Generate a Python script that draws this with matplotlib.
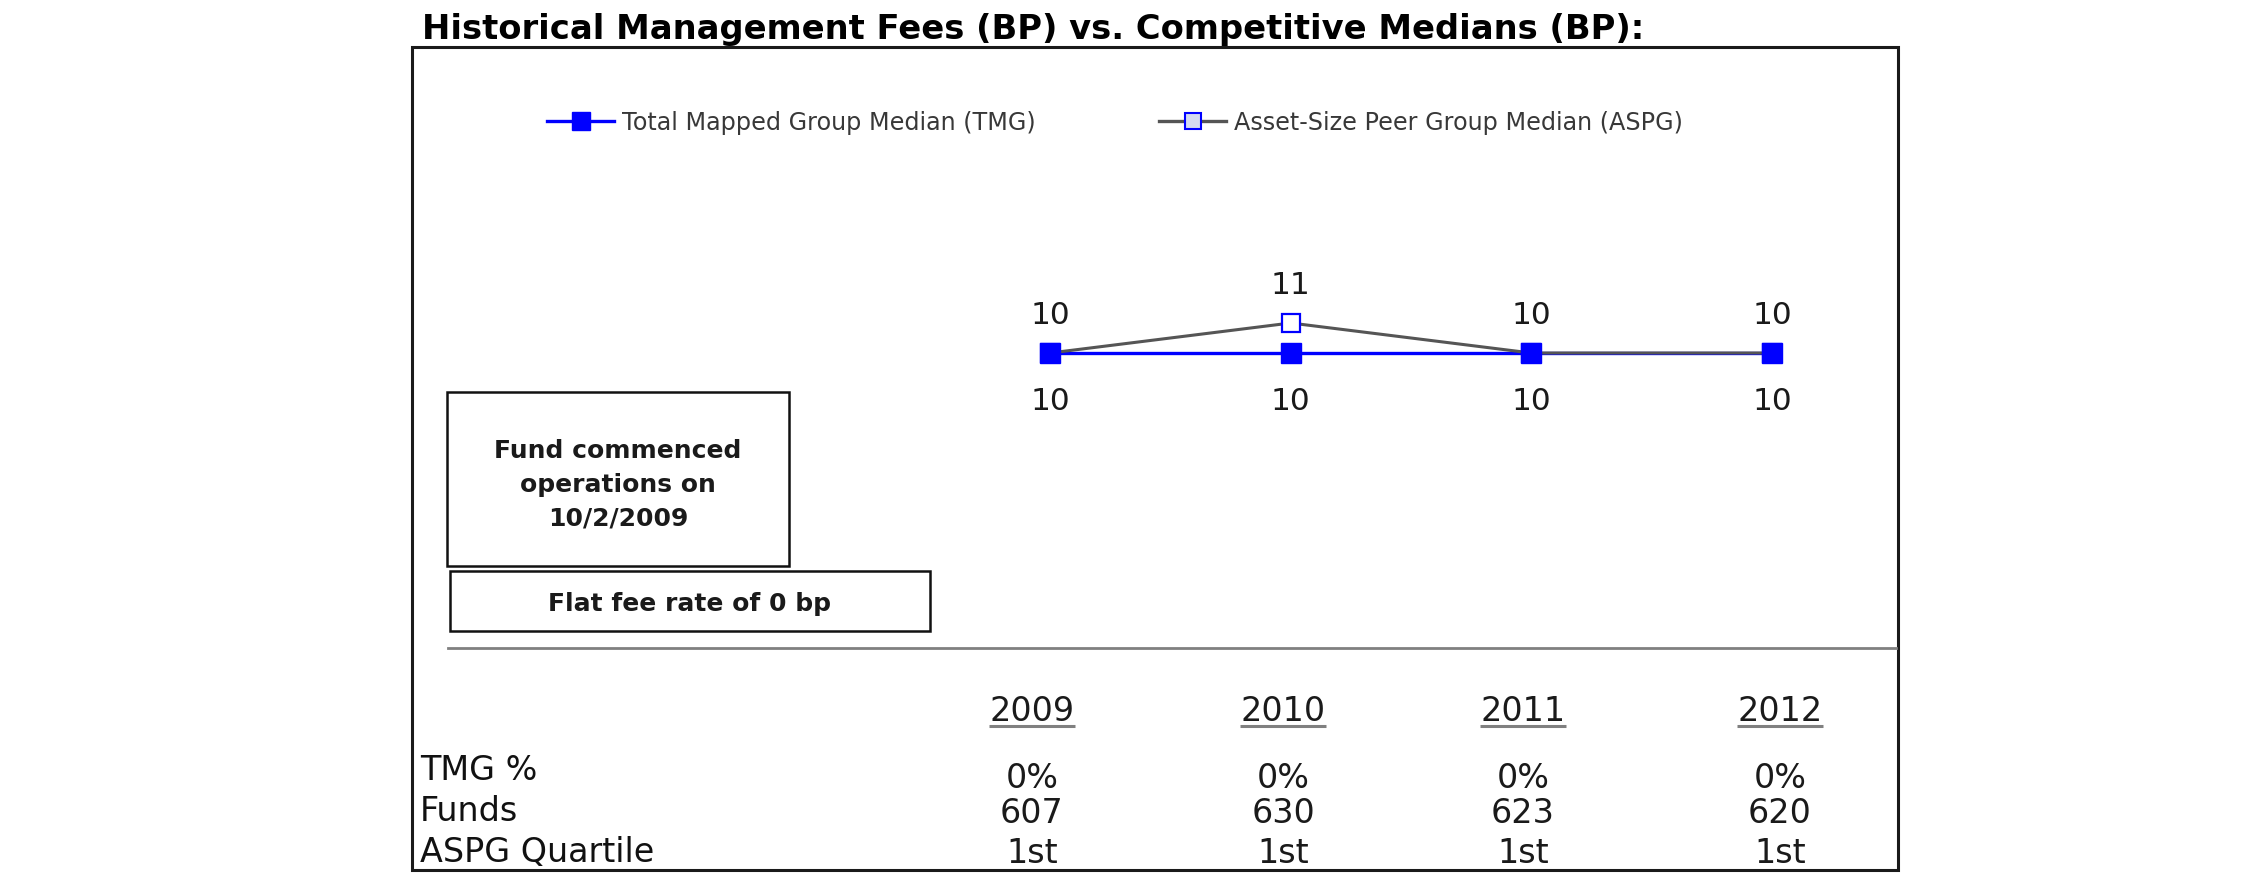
import matplotlib
matplotlib.use('Agg')
import matplotlib.pyplot as plt
from matplotlib.lines import Line2D
from matplotlib.patches import Rectangle

# ---------------- data ----------------
years = ['2009', '2010', '2011', '2012']
tmg_median = [10, 10, 10, 10]
aspg_median = [10, 11, 10, 10]
tmg_pct = ['0%', '0%', '0%', '0%']
funds = [607, 630, 623, 620]
aspg_quartile = ['1st', '1st', '1st', '1st']
row_labels = ['TMG %', 'Funds', 'ASPG Quartile']
title = 'Historical Management Fees (BP) vs. Competitive Medians (BP):'
legend_labels = ['Total Mapped Group Median (TMG)', 'Asset-Size Peer Group Median (ASPG)']
note_lines = ['Fund commenced', 'operations on', '10/2/2009']
fee_text = 'Flat fee rate of 0 bp'

# ---------------- layout helpers (pixels from top-left) ----------------
W, H = 2250, 895
fig = plt.figure(figsize=(W / 100, H / 100), dpi=100)
fig.patch.set_facecolor('white')


def fx(px):
    return px / W


def fy(py):
    return 1 - py / H


BLUE = '#0000ff'
GRAY_LINE = '#555555'
TXT = '#1a1a1a'

# title
fig.text(fx(422), fy(39), title, fontsize=24.3, fontweight='bold', color='black',
         ha='left', va='baseline')

# outer frame
fig.add_artist(Rectangle((fx(411.5), fy(871)), (1898 - 411.5) / W, (871 - 48) / H,
                         transform=fig.transFigure, fill=False, lw=2.2, ec='#1a1a1a'))

# ---------------- chart axes ----------------
x_left_px, x_unit_px = 1050, 240.67
y_ref_px, y_unit_px = 354, 30
ax_left = x_left_px - 0.5 * x_unit_px
ax_top = y_ref_px - 2 * y_unit_px
ax = fig.add_axes([fx(ax_left), fy(ax_top + 4 * y_unit_px), 4 * x_unit_px / W, 4 * y_unit_px / H])
ax.set_xlim(-0.5, len(years) - 0.5)
ax.set_ylim(8, 12)
ax.axis('off')

xs = list(range(len(years)))
ax.plot(xs, tmg_median, color=BLUE, lw=2.4, zorder=2, clip_on=False)
ax.plot(xs, aspg_median, color=GRAY_LINE, lw=2.2, marker='s', ms=12.5, mfc='white',
        mec=BLUE, mew=1.6, zorder=3, clip_on=False)
ax.plot(xs, tmg_median, ls='none', marker='s', ms=14.5, color=BLUE, zorder=4, clip_on=False)

for i, v in enumerate(aspg_median):
    ax.annotate(str(v), (xs[i], v), xytext=(0, 21.5), textcoords='offset points',
                ha='center', va='baseline', fontsize=22.5, color=TXT)
for i, v in enumerate(tmg_median):
    ax.annotate(str(v), (xs[i], v), xytext=(0, -40.3), textcoords='offset points',
                ha='center', va='baseline', fontsize=22.5, color=TXT)

# legend (two separate entries)
LEG_FS = 17.2
h1 = Line2D([], [], color=BLUE, lw=2.4, marker='s', ms=12.5, mfc=BLUE, mec=BLUE)
h2 = Line2D([], [], color=GRAY_LINE, lw=2.4, marker='s', ms=11, mfc='#d5dbf0', mec=BLUE, mew=1.5)
for h, lab, px in [(h1, legend_labels[0], 547), (h2, legend_labels[1], 1159)]:
    fig.legend(handles=[h], labels=[lab], loc='center left', bbox_to_anchor=(fx(px), fy(123)),
               frameon=False, borderpad=0, borderaxespad=0,
               handlelength=67 / (LEG_FS * 100 / 72),
               handletextpad=8 / (LEG_FS * 100 / 72), fontsize=LEG_FS, labelcolor='#383838')

# ---------------- note boxes ----------------
fig.add_artist(Rectangle((fx(447), fy(567)), (789 - 447) / W, (567 - 393) / H,
                         transform=fig.transFigure, fill=False, lw=1.8, ec='#111111'))
for line, base in zip(note_lines, [458, 492, 525]):
    fig.text(fx(618), fy(base), line, fontsize=18, fontweight='bold', color=TXT,
             ha='center', va='baseline')
fig.add_artist(Rectangle((fx(450), fy(632)), (930 - 450) / W, (632 - 572) / H,
                         transform=fig.transFigure, fill=False, lw=1.8, ec='#111111'))
fig.text(fx(690), fy(611.5), fee_text, fontsize=18, fontweight='bold', color=TXT,
         ha='center', va='baseline')

# separator
fig.add_artist(Line2D([fx(448), fx(1896)], [fy(649), fy(649)], color='#808080', lw=2.0,
                      transform=fig.transFigure))

# ---------------- table ----------------
col_x = [1032, 1283, 1523, 1780]
year_texts = []
for cx, yr in zip(col_x, years):
    year_texts.append(fig.text(fx(cx), fy(721.5), yr, fontsize=24, color=TXT,
                               ha='center', va='baseline'))

for lab, base in zip(row_labels, [780, 821, 862]):
    fig.text(fx(420), fy(base), lab, fontsize=24, color='#111111', ha='left', va='baseline')

rows = [(tmg_pct, 788), ([str(f) for f in funds], 823), (aspg_quartile, 863)]
for vals, base in rows:
    for cx, v in zip(col_x, vals):
        fig.text(fx(cx), fy(base), v, fontsize=24, color=TXT, ha='center', va='baseline')

# underline year headers
fig.canvas.draw()
r = fig.canvas.get_renderer()
for t in year_texts:
    bb = t.get_window_extent(renderer=r)
    fig.add_artist(Line2D([bb.x0 / W, bb.x1 / W], [fy(726.5), fy(726.5)], color='#808080',
                          lw=2.2, transform=fig.transFigure, solid_capstyle='butt'))

fig.savefig('out.png', dpi=100, facecolor='white')
